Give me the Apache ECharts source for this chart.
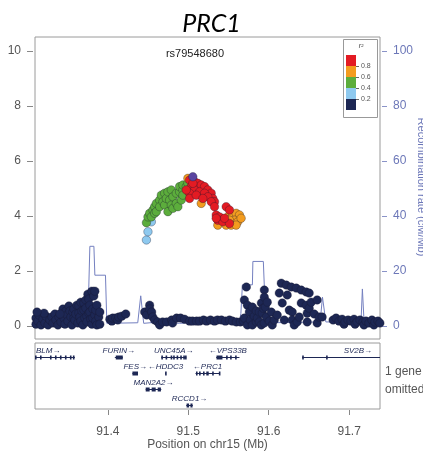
<!DOCTYPE html>
<html>
<head>
<meta charset="utf-8">
<script src="https://cdn.jsdelivr.net/npm/echarts@6/dist/echarts.min.js"></script>
<style>
  html, body { margin: 0; padding: 0; background: #fff; }
  #chart { width: 423px; height: 462px; }
</style>
</head>
<body>
<div id="chart"></div>
<script>
// ---- Region shown (chr15, Mb) and axis ticks ----
const X_MIN = 91.3095;
const X_MAX = 91.7383;
const xTicks = [91.4, 91.5, 91.6, 91.7];
const logpTicks = [0, 2, 4, 6, 8, 10];
const recombTicks = [0, 20, 40, 60, 80, 100];

// ---- LD legend ----
const r2Labels = ['0.8', '0.6', '0.4', '0.2'];
const r2Colors = ['#e31b23', '#f39c1f', '#5cad3c', '#8ec9ef', '#1d2754'];

// ---- Index SNP ----
const leadName = 'rs79548680';
const leadSnp = [[91.5057, 5.43]];

// ---- SNPs by LD bin: [position (Mb), -log10 p] ----
const snpR2Bin1 = [ // r2 < 0.2
  [91.3107,0.29],[91.3107,0.07],[91.3132,0.18],[91.3145,0.40],[91.3170,0.04],[91.3195,0.25],
  [91.3219,0.11],[91.3232,0.36],[91.3257,0.04],[91.3281,0.22],[91.3306,0.33],[91.3319,0.11],
  [91.3343,0.44],[91.3356,0.22],[91.3380,0.04],[91.3393,0.33],[91.3418,0.15],[91.3430,0.47],
  [91.3442,0.62],[91.3455,0.29],[91.3467,0.07],[91.3480,0.55],[91.3492,0.40],[91.3504,0.18],
  [91.3517,0.73],[91.3529,0.55],[91.3542,0.33],[91.3554,0.04],[91.3566,0.51],[91.3579,0.62],
  [91.3579,0.29],[91.3591,0.22],[91.3603,0.44],[91.3616,0.76],[91.3628,0.11],[91.3641,0.73],
  [91.3641,0.47],[91.3653,0.33],[91.3665,0.87],[91.3665,0.18],[91.3678,0.55],[91.3690,0.04],
  [91.3703,0.84],[91.3703,0.58],[91.3715,0.29],[91.3727,0.95],[91.3727,0.65],[91.3740,0.36],
  [91.3740,0.15],[91.3752,1.16],[91.3764,0.98],[91.3764,0.47],[91.3777,0.76],[91.3777,0.51],
  [91.3789,0.25],[91.3802,1.27],[91.3802,0.07],[91.3814,0.62],[91.3814,0.29],[91.3826,1.09],
  [91.3839,1.27],[91.3839,0.40],[91.3851,0.58],[91.3851,0.18],[91.3864,0.76],[91.3864,0.04],
  [91.3888,0.33],[91.3901,0.51],[91.3901,0.07],[91.3207,0.47],[91.3120,0.51],[91.3405,0.44],
  [91.4025,0.25],[91.4050,0.18],[91.4062,0.29],[91.4099,0.29],[91.4124,0.22],[91.4136,0.33],
  [91.4173,0.36],[91.4223,0.44],
  [91.4458,0.51],[91.4483,0.40],[91.4520,0.76],[91.4520,0.62],[91.4545,0.51],[91.4558,0.33],
  [91.4582,0.22],[91.4620,0.15],[91.4644,0.04],[91.4681,0.15],[91.4731,0.15],[91.4793,0.22],
  [91.4805,0.11],[91.4855,0.29],[91.4904,0.29],[91.4954,0.25],[91.5016,0.18],[91.5053,0.18],
  [91.5103,0.18],[91.5140,0.18],[91.5189,0.22],[91.5227,0.18],[91.5276,0.22],[91.5326,0.18],
  [91.5363,0.22],[91.5412,0.22],[91.5462,0.18],[91.5512,0.22],[91.5549,0.18],[91.5598,0.15],
  [91.5648,0.15],[91.5685,0.18],
  [91.5697,0.95],[91.5697,0.29],[91.5722,1.42],[91.5735,0.76],[91.5735,0.04],[91.5759,0.51],
  [91.5772,0.22],[91.5797,0.69],[91.5797,0.04],[91.5821,0.36],[91.5846,0.55],[91.5846,0.15],
  [91.5859,0.29],[91.5883,0.51],[91.5883,0.15],[91.5908,0.84],[91.5908,0.04],[91.5920,0.47],
  [91.5933,0.65],[91.5945,1.31],[91.5945,1.05],[91.5945,0.11],[91.5958,0.69],[91.5970,0.33],
  [91.5982,0.87],[91.6007,0.18],[91.6032,0.51],[91.6044,0.04],[91.6069,0.22],
  [91.6106,0.40],[91.6131,1.20],[91.6156,1.56],[91.6168,0.84],[91.6193,0.22],[91.6218,1.49],
  [91.6230,1.13],[91.6255,0.58],[91.6280,1.42],[91.6292,0.51],[91.6292,0.22],[91.6317,0.04],
  [91.6342,1.38],[91.6354,0.15],[91.6379,0.33],[91.6404,1.31],[91.6404,0.84],[91.6466,1.24],
  [91.6466,0.76],[91.6478,0.47],[91.6478,0.15],[91.6503,1.20],[91.6503,0.65],[91.6528,0.87],
  [91.6565,0.44],[91.6602,0.95],[91.6602,0.11],[91.6627,0.33],[91.6664,0.33],
  [91.6800,0.22],[91.6837,0.29],[91.6874,0.18],[91.6912,0.25],[91.6936,0.07],[91.6949,0.15],
  [91.6986,0.22],[91.7023,0.18],[91.7060,0.25],[91.7073,0.07],[91.7098,0.15],[91.7135,0.22],
  [91.7172,0.15],[91.7184,0.04],[91.7209,0.18],[91.7246,0.11],[91.7283,0.22],[91.7308,0.04],
  [91.7320,0.15],[91.7358,0.18],[91.7382,0.11]
];
const snpR2Bin2 = [ // 0.2 - 0.4
  [91.4480,3.13],[91.4499,3.43],[91.4541,3.79]
];
const snpR2Bin3 = [ // 0.4 - 0.6
  [91.4480,3.76],[91.4499,3.97],[91.4520,4.10],[91.4541,3.97],[91.4561,4.22],[91.4582,4.34],
  [91.4582,4.10],[91.4603,4.46],[91.4603,4.16],[91.4644,4.58],[91.4644,4.34],[91.4665,4.76],
  [91.4685,4.52],[91.4706,4.83],[91.4706,4.40],[91.4727,4.64],[91.4747,4.88],[91.4747,4.16],
  [91.4768,4.58],[91.4789,4.95],[91.4789,4.40],[91.4809,4.70],[91.4809,4.28],[91.4851,4.83],
  [91.4851,4.46],[91.4871,4.34],[91.4892,4.88],[91.4892,5.07],[91.4913,4.58],[91.4933,4.95],
  [91.4933,4.76],[91.4933,5.13],[91.4975,5.07],[91.4995,5.19]
];
const snpR2Bin4 = [ // 0.6 - 0.8
  [91.4995,5.37],[91.5161,4.46],[91.5491,3.97],[91.5553,4.04],[91.5595,4.10],[91.5636,4.04],
  [91.5574,3.85],[91.5615,3.79],[91.5657,3.92],[91.5367,3.67],[91.5471,3.67],[91.5533,3.67],
  [91.5595,3.67],[91.5512,3.85]
];
const snpR2Bin5 = [ // 0.8 - 1
  [91.5016,5.31],[91.5078,5.25],[91.5119,5.19],[91.5161,5.13],[91.5202,5.07],[91.5243,4.95],
  [91.5285,4.83],[91.5305,4.64],[91.5326,4.52],[91.5037,5.07],[91.5078,4.95],[91.5140,4.88],
  [91.5202,4.83],[91.5243,4.70],[91.5016,4.83],[91.5016,4.64],[91.5099,4.76],[91.5181,4.64],
  [91.5285,4.52],[91.5326,4.34],[91.5057,5.19],[91.4975,4.95],[91.5471,4.34],[91.5512,4.22],
  [91.5347,4.04],[91.5388,3.97],[91.5367,3.85],[91.5429,3.79],[91.5512,3.73],[91.5450,3.92],
  [91.5347,3.92]
];

// ---- Recombination rate (cM/Mb) ----
const recombPos = [91.3095,91.3405,91.3752,91.3777,91.3827,91.3839,91.3971,91.3988,91.4372,91.4409,
  91.4446,91.4644,91.4892,91.5140,91.5388,91.5636,91.5654,91.5673,91.5797,91.5803,91.5933,91.5958,
  91.5983,91.6255,91.6639,91.6668,91.6710,91.6937,91.7147,91.7164,91.7185,91.7383];
const recombRate = [1.3,1.5,1.5,29,29,18.5,18.5,1.0,1.2,11,
  1.0,1.5,1.0,1.3,1.5,1.5,4.6,15,15,23.5,23.5,5,
  1.2,1.3,1.5,10.5,1.5,1.5,1.5,13.5,1.5,1.5];

// ---- Genes (Mb) ----
const geneNames  = ['BLM','FURIN','UNC45A','VPS33B','SV2B','FES','HDDC3','PRC1','MAN2A2','RCCD1'];
const geneStart  = [91.2900,91.4087,91.4665,91.5347,91.6416,91.4306,91.4712,91.5090,91.4471,91.4975];
const geneEnd    = [91.3591,91.4186,91.4975,91.5636,91.7800,91.4375,91.4722,91.5388,91.4665,91.5057];
const geneStrand = ['+','+','+','-','+','+','-','-','+','+'];
const geneRow    = [1,1,1,1,1,2,2,2,3,4];
const geneExons  = [
  [[91.3095,91.3110],[91.3157,91.3170],[91.3281,91.3294],[91.3343,91.3356],[91.3405,91.3418],[91.3467,91.3480],[91.3529,91.3542],[91.3566,91.3579]],
  [[91.4099,91.4186]],
  [[91.4665,91.4680],[91.4718,91.4733],[91.4781,91.4796],[91.4812,91.4830],[91.4855,91.4870],[91.4900,91.4915],[91.4938,91.4953],[91.4960,91.4975]],
  [[91.5351,91.5425],[91.5470,91.5485],[91.5520,91.5535],[91.5582,91.5597]],
  [[91.6416,91.6426],[91.6713,91.6723]],
  [[91.4306,91.4375]],
  [[91.4712,91.4722]],
  [[91.5096,91.5111],[91.5134,91.5149],[91.5183,91.5198],[91.5224,91.5254],[91.5297,91.5312],[91.5380,91.5388]],
  [[91.4471,91.4520],[91.4545,91.4595],[91.4620,91.4660]],
  [[91.4979,91.5010],[91.5027,91.5053]]
];

const GENE_COLOR = '#1d2754';
const LABEL_FONT = 'italic 8px "Liberation Sans", Arial, sans-serif';
const measureCtx = document.createElement('canvas').getContext('2d');
function textWidth(s) { measureCtx.font = LABEL_FONT; return measureCtx.measureText(s).width; }

function renderGene(params, api) {
  const i = api.value(2);
  const row = geneRow[i];
  const cs = params.coordSys;
  const left = cs.x, right = cs.x + cs.width;
  const p0 = api.coord([geneStart[i], row]);
  const p1 = api.coord([geneEnd[i], row]);
  const x0 = Math.max(p0[0], left), x1 = Math.min(p1[0], right);
  const y = Math.round(p0[1]) + 0.5;
  const children = [{
    type: 'line',
    shape: { x1: x0, y1: y, x2: x1, y2: y },
    style: { stroke: GENE_COLOR, lineWidth: 1 }
  }];
  geneExons[i].forEach(function (ex) {
    const a = Math.max(api.coord([ex[0], row])[0], left);
    const b = Math.min(api.coord([ex[1], row])[0], right);
    children.push({
      type: 'rect',
      shape: { x: a, y: y - 2, width: Math.max(b - a, 1.6), height: 4 },
      style: { fill: GENE_COLOR }
    });
  });
  // label centred over the whole gene, kept inside the panel
  const label = geneStrand[i] === '+' ? geneNames[i] + '\u2192' : '\u2190' + geneNames[i];
  const w = textWidth(label);
  let cx = (p0[0] + p1[0]) / 2;
  cx = Math.min(Math.max(cx, left + w / 2 + 1), right - w / 2 - 1);
  children.push({
    type: 'text',
    style: { text: label, x: cx, y: y - 3, align: 'center', verticalAlign: 'bottom',
             font: LABEL_FONT, fill: GENE_COLOR }
  });
  return { type: 'group', children: children };
}

function snpSeries(data, color, z) {
  return {
    type: 'scatter', xAxisIndex: 0, yAxisIndex: 0, data: data, symbol: 'circle', symbolSize: 8.5,
    itemStyle: { color: color, borderColor: 'rgba(25,25,45,0.55)', borderWidth: 0.6, opacity: 1 },
    z: z, silent: true
  };
}

const FONT = '"Liberation Sans", Arial, sans-serif';
const AXIS_GREY = '#555';
const RECOMB_COLOR = '#6c77b8';

// legend graphic: box, colour blocks, break labels
const legendGraphics = [
  { type: 'rect', shape: { x: 343.5, y: 39.5, width: 34, height: 78 }, style: { fill: '#fff', stroke: '#999', lineWidth: 1 }, z: 20 },
  { type: 'text', style: { text: 'r\u00b2', x: 361, y: 46, align: 'center', verticalAlign: 'middle', font: 'italic 7px ' + FONT, fill: '#444' }, z: 21 }
];
r2Colors.forEach(function (c, k) {
  legendGraphics.push({ type: 'rect', shape: { x: 346, y: 55 + k * 11, width: 10, height: 11 }, style: { fill: c }, z: 21 });
});
r2Labels.forEach(function (t, k) {
  const yy = 66 + k * 11;
  legendGraphics.push({ type: 'line', shape: { x1: 356, y1: yy + 0.5, x2: 359, y2: yy + 0.5 }, style: { stroke: '#666', lineWidth: 1 }, z: 21 });
  legendGraphics.push({ type: 'text', style: { text: t, x: 361, y: yy, align: 'left', verticalAlign: 'middle', font: '7px ' + FONT, fill: '#555' }, z: 21 });
});

const chart = echarts.init(document.getElementById('chart'), null, { renderer: 'canvas' });
chart.setOption({
  animation: false,
  backgroundColor: '#fff',
  title: {
    text: 'PRC1', left: 'center', top: 6,
    textStyle: { fontFamily: 'Lato, "Open Sans", sans-serif', fontStyle: 'italic', fontWeight: 'normal', fontSize: 25, color: '#000' }
  },
  grid: [
    { left: 35, right: 43, top: 37, height: 302, show: true, borderColor: '#9a9a9a', borderWidth: 1, backgroundColor: 'transparent' },
    { left: 35, right: 43, top: 343, height: 66, show: true, borderColor: '#9a9a9a', borderWidth: 1, backgroundColor: 'transparent' }
  ],
  xAxis: [
    { gridIndex: 0, type: 'value', min: X_MIN, max: X_MAX, show: false },
    {
      gridIndex: 1, type: 'value', min: X_MIN, max: X_MAX, offset: 1,
      axisLine: { show: false },
      axisTick: { show: true, length: 5, customValues: xTicks, lineStyle: { color: '#888' } },
      axisLabel: { customValues: xTicks, formatter: function (v) { return v.toFixed(1); }, color: AXIS_GREY, fontSize: 12, fontFamily: FONT, margin: 16 },
      splitLine: { show: false },
      name: 'Position on chr15 (Mb)', nameLocation: 'middle', nameGap: 28,
      nameTextStyle: { color: AXIS_GREY, fontSize: 12, fontFamily: FONT }
    }
  ],
  yAxis: [
    {
      gridIndex: 0, type: 'value', position: 'left', min: -0.47, max: 10.51, offset: 2,
      axisLine: { show: false },
      axisTick: { show: true, length: 6, customValues: logpTicks, lineStyle: { color: '#888' } },
      axisLabel: { customValues: logpTicks, color: AXIS_GREY, fontSize: 12, fontFamily: FONT, margin: 12 },
      splitLine: { show: false }
    },
    {
      gridIndex: 0, type: 'value', position: 'right', min: -4.7, max: 105.1, offset: 2,
      axisLine: { show: false },
      axisTick: { show: true, length: 5, customValues: recombTicks, lineStyle: { color: '#8a93c8' } },
      axisLabel: { customValues: recombTicks, color: RECOMB_COLOR, fontSize: 12, fontFamily: FONT, margin: 11 },
      splitLine: { show: false }
    },
    { gridIndex: 1, type: 'value', min: 0.125, max: 4.25, inverse: true, show: false }
  ],
  graphic: legendGraphics.concat([
    { type: 'text', style: { text: leadName, x: 195, y: 54, align: 'center', verticalAlign: 'middle', font: '11px ' + FONT, fill: '#222' }, z: 20 },
    { type: 'text', rotation: -Math.PI / 2, x: 421, y: 187,
      style: { text: 'Recombination rate (cM/Mb)', x: 0, y: 0, align: 'center', verticalAlign: 'middle', font: '11px ' + FONT, fill: RECOMB_COLOR }, z: 20 },
    { type: 'text', style: { text: '1 gene', x: 385, y: 372, align: 'left', verticalAlign: 'middle', font: '12px ' + FONT, fill: AXIS_GREY }, z: 20 },
    { type: 'text', style: { text: 'omitted', x: 385, y: 390, align: 'left', verticalAlign: 'middle', font: '12px ' + FONT, fill: AXIS_GREY }, z: 20 }
  ]),
  series: [
    {
      type: 'line', xAxisIndex: 0, yAxisIndex: 1, showSymbol: false, silent: true,
      data: recombPos.map(function (p, i) { return [p, recombRate[i]]; }),
      lineStyle: { color: '#7480c0', width: 1 }, z: 1
    },
    snpSeries(snpR2Bin1, r2Colors[4], 2),
    snpSeries(snpR2Bin2, r2Colors[3], 3),
    snpSeries(snpR2Bin3, r2Colors[2], 4),
    snpSeries(snpR2Bin4, r2Colors[1], 5),
    snpSeries(snpR2Bin5, r2Colors[0], 6),
    snpSeries(leadSnp, '#5a45a0', 7),
    {
      type: 'custom', xAxisIndex: 1, yAxisIndex: 2, silent: true, clip: true,
      data: geneNames.map(function (n, i) { return [geneStart[i], geneRow[i], i]; }),
      encode: { x: 0, y: 1 },
      renderItem: renderGene, z: 5
    }
  ]
});
</script>
</body>
</html>
